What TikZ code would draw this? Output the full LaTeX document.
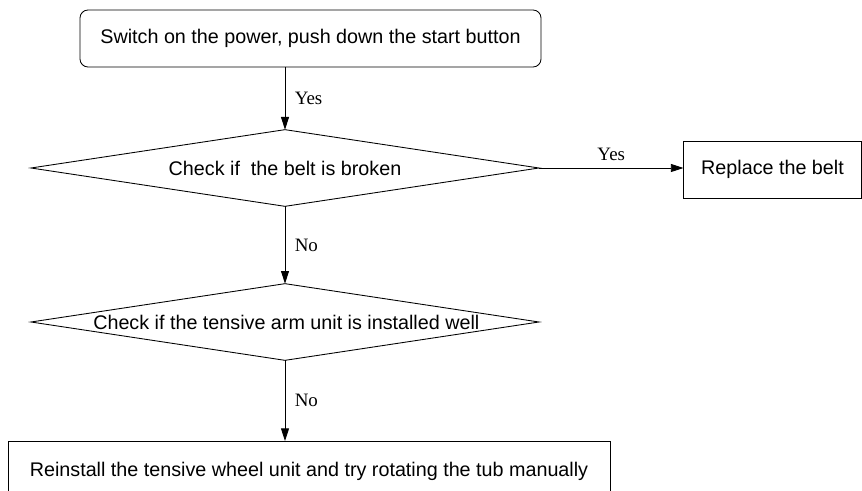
\documentclass[tikz,border=0pt]{standalone}
\usepackage{fontspec}
\setmainfont{Liberation Sans}
\newfontfamily\answerfamily{Liberation Serif}
\usetikzlibrary{shapes.geometric,arrows.meta}
\newcommand{\boxfont}{\fontsize{14.8}{17}\selectfont}
\newcommand{\answerfont}{\answerfamily\fontsize{14.2}{16}\selectfont}

\begin{document}
\begin{tikzpicture}[
  x=0.75pt, y=-0.75pt,
  line width=0.65pt,
  >={Triangle[length=9.5pt,width=6pt]},
  round_box/.style={rectangle, rounded corners=6pt, draw, inner sep=0pt, outer sep=0pt, font=\boxfont},
  plain_box/.style={rectangle, draw, inner sep=0pt, outer sep=0pt, font=\boxfont},
  check_box/.style={diamond, draw, inner sep=0pt, outer sep=0pt, minimum width=381pt, minimum height=57.5pt},
  answer_text/.style={font=\answerfont, inner sep=1pt},
]
\useasboundingbox (0,0) rectangle (862,491);
\draw (310.5,38.5) node (power_on) [round_box, minimum width=345.75pt, minimum height=42.75pt] {Switch on the power, push down the start button};
\draw (285,168) node (belt_check) [check_box, label={[font=\boxfont]center:Check if \ the belt is broken}] {};
\draw (772.5,169.5) node (belt_new) [plain_box, minimum width=133.5pt, minimum height=42.75pt] {Replace the belt};
\draw (285,322) node (arm_check) [check_box, label={[font=\boxfont, xshift=1pt]center:Check if the tensive arm unit is installed well}] {};
\draw (309,471) node (wheel_fix) [plain_box, minimum width=451.5pt, minimum height=45pt] {Reinstall the tensive wheel unit and try rotating the tub manually};
\draw[->] (belt_check.north |- power_on.south) -- node (yes_a) [answer_text, right=6pt] {Yes} (belt_check.north);
\draw[->] (belt_check.east) -- node (yes_b) [answer_text, above=4pt] {Yes} (belt_new.west |- belt_check.east);
\draw[->] (belt_check.south) -- node (no_a) [answer_text, right=6pt] {No} (arm_check.north);
\draw[->] (arm_check.south) -- node (no_b) [answer_text, right=6pt] {No} (arm_check.south |- wheel_fix.north);
\end{tikzpicture}
\end{document}
